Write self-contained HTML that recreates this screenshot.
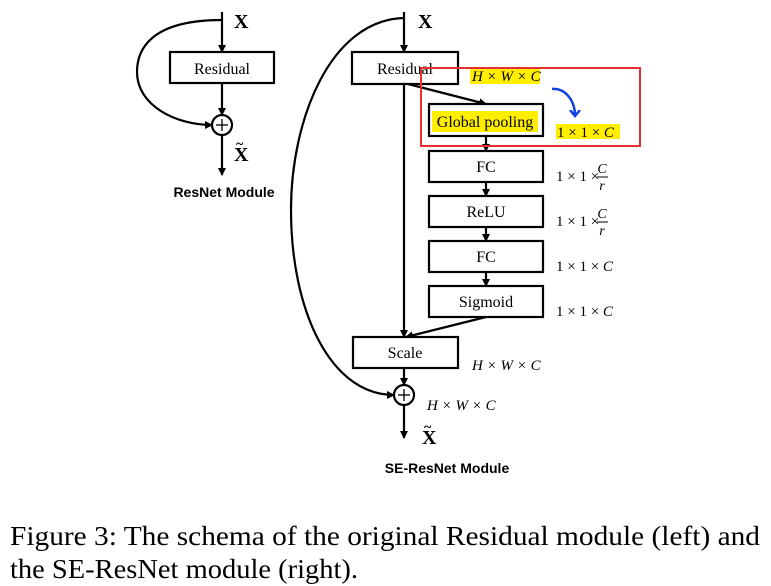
<!DOCTYPE html>
<html><head><style>
html,body{margin:0;padding:0;background:#fff;}
svg{display:block;}
.r{font-family:"Liberation Serif",serif;}
</style></head><body>
<svg width="771" height="586" viewBox="0 0 771 586" xmlns="http://www.w3.org/2000/svg">
<defs>
<marker id="a" markerWidth="8" markerHeight="8" refX="7" refY="4" orient="auto" markerUnits="userSpaceOnUse">
<path d="M0,0 L8,4 L0,8 Z" fill="#000"/></marker>
<marker id="b" markerWidth="12" markerHeight="12" refX="6" refY="6" orient="auto" markerUnits="userSpaceOnUse">
<path d="M0,1 L6,6 L0,11" fill="none" stroke="#1040e0" stroke-width="2.5"/></marker>
</defs>
<g stroke="#000" stroke-width="2.2" fill="none">
<line x1="222" y1="12" x2="222" y2="52" marker-end="url(#a)"/>
<rect x="170" y="52" width="104" height="31" fill="#fff"/>
<line x1="222" y1="83" x2="222" y2="115" marker-end="url(#a)"/>
<circle cx="222" cy="125" r="10"/>
<line x1="222" y1="135" x2="222" y2="175" marker-end="url(#a)"/>
<path d="M222,20 C150,20 137,50 137,72 C137,105 175,125 212,125" marker-end="url(#a)"/>
<line x1="404" y1="12" x2="404" y2="52" marker-end="url(#a)"/>
<path d="M404,18 C330,20 291,120 291,210 C291,310 330,395 394,395" marker-end="url(#a)"/>
<line x1="404" y1="84" x2="404" y2="337" marker-end="url(#a)"/>
<line x1="408" y1="84" x2="486" y2="104" marker-end="url(#a)"/>
<rect x="429" y="104" width="114" height="32" fill="#fff"/>
<line x1="486" y1="136" x2="486" y2="151" marker-end="url(#a)"/>
<rect x="429" y="151" width="114" height="31" fill="#fff"/>
<line x1="486" y1="182" x2="486" y2="196" marker-end="url(#a)"/>
<rect x="429" y="196" width="114" height="31" fill="#fff"/>
<line x1="486" y1="227" x2="486" y2="241" marker-end="url(#a)"/>
<rect x="429" y="241" width="114" height="31" fill="#fff"/>
<line x1="486" y1="272" x2="486" y2="286" marker-end="url(#a)"/>
<rect x="429" y="286" width="114" height="31" fill="#fff"/>
<line x1="486" y1="317" x2="406" y2="337" marker-end="url(#a)"/>
<rect x="353" y="337" width="105" height="31" fill="#fff"/>
<line x1="404" y1="368" x2="404" y2="385" marker-end="url(#a)"/>
<circle cx="404" cy="395" r="10"/>
<line x1="404" y1="405" x2="404" y2="438" marker-end="url(#a)"/>
<rect x="352" y="52" width="106" height="32" fill="#fff"/>
</g>
<g stroke="#000" stroke-width="1.3">
<line x1="216" y1="125" x2="228" y2="125"/><line x1="222" y1="119" x2="222" y2="131"/>
<line x1="398" y1="395" x2="410" y2="395"/><line x1="404" y1="389" x2="404" y2="401"/>
</g>
<rect x="432" y="111" width="106" height="21" fill="#ffee00"/>
<rect x="470" y="69" width="70" height="15" fill="#ffee00"/>
<rect x="556" y="124" width="64" height="15" fill="#ffee00"/>
<g class="r" font-size="16" text-anchor="middle" fill="#000">
<text x="222" y="74">Residual</text>
<text x="405" y="74">Residual</text>
<text x="485" y="127">Global pooling</text>
<text x="486" y="172">FC</text>
<text x="486" y="217">ReLU</text>
<text x="486" y="262">FC</text>
<text x="486" y="307">Sigmoid</text>
<text x="405" y="358">Scale</text>
</g>
<g class="r" font-weight="bold" font-size="20" fill="#000">
<text x="234" y="28">X</text>
<text x="418" y="28">X</text>
<text x="234" y="161">X</text><text x="236" y="148" font-size="14">~</text>
<text x="422" y="444">X</text><text x="424" y="431" font-size="14">~</text>
</g>
<g font-family="Liberation Sans,sans-serif" font-weight="bold" font-size="14" text-anchor="middle">
<text x="224" y="197">ResNet Module</text>
<text x="447" y="473">SE-ResNet Module</text>
</g>
<g class="r" font-size="15" fill="#000">
<text x="472" y="81" font-style="italic">H × W × C</text>
<text x="557" y="137">1 × 1 × <tspan font-style="italic">C</tspan></text>
<text x="556" y="181">1 × 1 ×</text>
<text x="602" y="173" font-style="italic" font-size="14" text-anchor="middle">C</text>
<line x1="597" y1="177" x2="608" y2="177" stroke="#000" stroke-width="1"/>
<text x="602" y="190" font-style="italic" font-size="14" text-anchor="middle">r</text>
<text x="556" y="226">1 × 1 ×</text>
<text x="602" y="218" font-style="italic" font-size="14" text-anchor="middle">C</text>
<line x1="597" y1="222" x2="608" y2="222" stroke="#000" stroke-width="1"/>
<text x="602" y="235" font-style="italic" font-size="14" text-anchor="middle">r</text>
<text x="556" y="271">1 × 1 × <tspan font-style="italic">C</tspan></text>
<text x="556" y="316">1 × 1 × <tspan font-style="italic">C</tspan></text>
<text x="472" y="370" font-style="italic">H × W × C</text>
<text x="427" y="410" font-style="italic">H × W × C</text>
</g>
<rect x="421" y="68" width="219" height="78" fill="none" stroke="#e53030" stroke-width="2"/>
<path d="M552,89 C565,88 575,100 575,116" fill="none" stroke="#1040e0" stroke-width="2.5" marker-end="url(#b)"/>
<g class="r" font-size="27" fill="#000">
<text x="10" y="545" textLength="750" lengthAdjust="spacingAndGlyphs">Figure 3:  The schema of the original Residual module (left) and</text>
<text x="10" y="578" textLength="348" lengthAdjust="spacingAndGlyphs">the SE-ResNet module (right).</text>
</g>
</svg>
</body></html>
